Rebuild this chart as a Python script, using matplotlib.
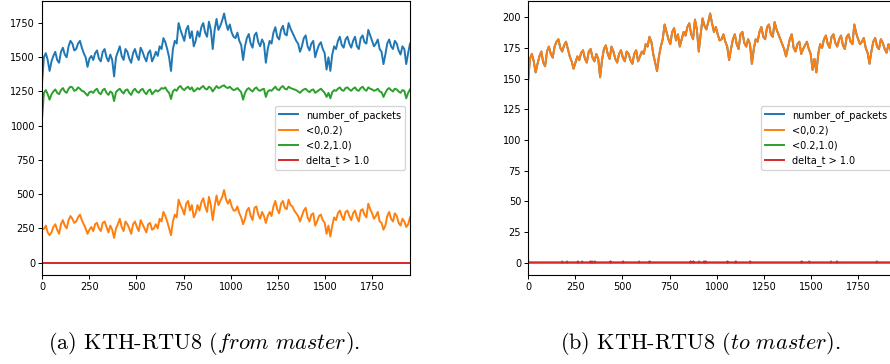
import matplotlib.pyplot as plt
import numpy as np

plt.rcParams['mathtext.fontset'] = 'cm'

n_samples = 1950

packets_a = [1310, 1500, 1530, 1480, 1400, 1470, 1510, 1540, 1480, 1460,
             1540, 1570, 1520, 1500, 1580, 1620, 1600, 1550, 1560, 1600,
             1620, 1570, 1530, 1500, 1430, 1490, 1510, 1480, 1530, 1550,
             1490, 1470, 1540, 1560, 1500, 1470, 1520, 1480, 1360, 1500,
             1540, 1580, 1510, 1480, 1560, 1540, 1490, 1460, 1530, 1560,
             1510, 1480, 1570, 1540, 1500, 1470, 1530, 1550, 1470, 1500,
             1540, 1510, 1580, 1560, 1640, 1610, 1560, 1500, 1400, 1560,
             1620, 1600, 1750, 1700, 1660, 1620, 1700, 1730, 1640, 1690,
             1580, 1620, 1690, 1650, 1720, 1750, 1680, 1650, 1760, 1700,
             1560, 1700, 1780, 1700, 1730, 1770, 1820, 1750, 1700, 1740,
             1680, 1650, 1640, 1680, 1620, 1590, 1480, 1580, 1640, 1670,
             1600, 1570, 1660, 1680, 1610, 1580, 1630, 1600, 1460, 1560,
             1620, 1600, 1680, 1720, 1650, 1630, 1700, 1730, 1670, 1660,
             1750, 1710, 1680, 1650, 1620, 1600, 1540, 1580, 1640, 1660,
             1580, 1550, 1600, 1620, 1500, 1550, 1590, 1610, 1560, 1530,
             1410, 1500, 1400, 1520, 1580, 1560, 1620, 1650, 1590, 1570,
             1630, 1650, 1600, 1570, 1620, 1650, 1580, 1560, 1640, 1660,
             1610, 1600, 1700, 1660, 1620, 1580, 1600, 1630, 1560, 1540,
             1450, 1520, 1600, 1630, 1580, 1560, 1620, 1600, 1550, 1520,
             1580, 1560, 1450, 1530, 1600]
short_a = [250, 245, 270, 220, 200, 220, 260, 280, 240, 210,
           280, 310, 270, 250, 310, 340, 320, 290, 300, 330,
           350, 310, 280, 250, 210, 240, 260, 230, 280, 290,
           250, 230, 290, 300, 260, 220, 270, 240, 180, 250,
           280, 320, 260, 230, 300, 280, 250, 210, 280, 300,
           260, 230, 310, 280, 250, 220, 280, 290, 240, 250,
           280, 250, 320, 300, 370, 340, 300, 250, 200, 300,
           350, 330, 460, 420, 390, 350, 430, 450, 380, 420,
           330, 360, 420, 380, 440, 470, 410, 370, 480, 420,
           310, 410, 490, 420, 450, 480, 530, 460, 430, 460,
           410, 380, 380, 410, 360, 330, 280, 320, 380, 400,
           340, 310, 400, 410, 350, 320, 370, 340, 290, 340,
           370, 340, 410, 450, 390, 360, 430, 450, 400, 390,
           460, 420, 410, 380, 360, 340, 300, 340, 380, 400,
           330, 300, 350, 360, 270, 300, 340, 350, 310, 290,
           210, 270, 190, 270, 330, 310, 360, 380, 340, 310,
           370, 380, 340, 310, 360, 380, 330, 300, 380, 390,
           350, 330, 430, 390, 360, 320, 340, 370, 300, 290,
           240, 270, 340, 370, 320, 300, 360, 340, 290, 270,
           320, 300, 260, 280, 330]
mid_a = [1050, 1240, 1260, 1230, 1190, 1230, 1250, 1265, 1240, 1230,
         1260, 1275, 1250, 1240, 1270, 1285, 1280, 1255, 1260, 1280,
         1270, 1255, 1250, 1235, 1220, 1245, 1250, 1240, 1260, 1270,
         1240, 1230, 1260, 1270, 1240, 1225, 1250, 1240, 1180, 1245,
         1260, 1270, 1250, 1235, 1260, 1265, 1240, 1225, 1255, 1270,
         1250, 1240, 1260, 1270, 1245, 1230, 1255, 1265, 1230, 1245,
         1260, 1250, 1260, 1275, 1270, 1280, 1255, 1240, 1195, 1250,
         1265, 1255, 1280, 1290, 1270, 1260, 1275, 1285, 1265, 1280,
         1250, 1260, 1275, 1265, 1280, 1290, 1270, 1265, 1285, 1275,
         1250, 1270, 1290, 1275, 1280, 1290, 1295, 1280, 1275, 1285,
         1270, 1260, 1265, 1275, 1260, 1245, 1190, 1240, 1265, 1275,
         1260, 1250, 1270, 1280, 1260, 1255, 1265, 1270, 1210, 1250,
         1260, 1255, 1270, 1285, 1265, 1260, 1280, 1290, 1270, 1265,
         1285, 1275, 1270, 1265, 1260, 1250, 1240, 1255, 1265, 1270,
         1255, 1245, 1260, 1265, 1240, 1250, 1260, 1270, 1255, 1240,
         1210, 1240, 1200, 1245, 1260, 1255, 1270, 1280, 1260, 1255,
         1275, 1280, 1265, 1255, 1270, 1280, 1260, 1255, 1275, 1285,
         1265, 1255, 1280, 1270, 1265, 1255, 1260, 1270, 1250, 1245,
         1210, 1240, 1265, 1275, 1260, 1250, 1270, 1265, 1250, 1240,
         1260, 1255, 1200, 1240, 1265]
long_a = [0] * len(packets_a)

# KTH-RTU8, to master
short_b = [147, 166, 170, 164, 155, 162, 168, 172, 163, 160,
           172, 176, 170, 167, 176, 180, 182, 175, 172, 177,
           180, 174, 168, 164, 158, 163, 168, 165, 171, 173,
           166, 163, 172, 174, 167, 164, 170, 166, 151, 165,
           174, 177, 170, 166, 176, 172, 166, 163, 170, 173,
           167, 164, 172, 170, 165, 162, 170, 173, 164, 168,
           172, 170, 178, 176, 184, 180, 170, 163, 156, 168,
           176, 182, 194, 188, 182, 178, 188, 191, 181, 186,
           176, 182, 188, 185, 192, 195, 186, 182, 198, 190,
           172, 186, 199, 193, 190, 196, 203, 195, 188, 192,
           186, 181, 182, 186, 180, 176, 165, 174, 182, 186,
           178, 174, 186, 188, 179, 176, 182, 178, 162, 174,
           182, 180, 188, 192, 184, 182, 192, 194, 186, 184,
           196, 190, 186, 182, 178, 174, 168, 175, 182, 186,
           175, 172, 178, 180, 170, 174, 177, 180, 174, 170,
           157, 166, 155, 170, 178, 175, 182, 185, 178, 175,
           184, 186, 179, 176, 182, 185, 177, 174, 184, 186,
           180, 178, 194, 187, 182, 178, 180, 183, 175, 171,
           162, 172, 180, 183, 176, 174, 182, 179, 174, 171,
           178, 174, 165, 171, 176]
packets_b = short_b
# rare non-zero counts in the slower bins (index, count)
mid_b_idx = [180, 207, 287, 340, 588, 906, 1490, 1605, 1848]
mid_b_val = [1, 1, 1, 1, 1, 1, 1, 1, 1]
long_b_idx = [0, 264, 331, 354, 437, 504, 644, 862, 876, 933, 942, 1057,
              1101, 1177, 1450, 1637]
long_b_val = [3, 1, 1, 1, 1, 1, 1, 1, 1, 1, 1, 1, 1, 1, 1, 1]

labels = ["number_of_packets", "<0,0.2)", "<0.2,1.0)", "delta_t > 1.0"]


def spikes(idx, val):
    s = np.zeros(n_samples)
    s[idx] = val
    return s


t = np.linspace(0, n_samples, len(packets_a))
t_full = np.arange(n_samples)

fig = plt.figure(figsize=(8.9, 3.64), dpi=100)
ax_a = fig.add_axes([0.0472, 0.2445, 0.4135, 0.7527])
ax_b = fig.add_axes([0.5933, 0.2445, 0.4135, 0.7527])

ax_a.plot(t, packets_a, color='tab:blue', lw=1.4, label=labels[0])
ax_a.plot(t, short_a, color='tab:orange', lw=1.4, label=labels[1])
ax_a.plot(t, mid_a, color='tab:green', lw=1.4, label=labels[2])
ax_a.plot(t, long_a, color='tab:red', lw=1.4, label=labels[3])

ax_b.plot(t, packets_b, color='tab:blue', lw=1.4, label=labels[0])
ax_b.plot(t, short_b, color='tab:orange', lw=1.4, label=labels[1])
ax_b.plot(t_full, spikes(mid_b_idx, mid_b_val), color='tab:green', lw=1.4,
          label=labels[2])
ax_b.plot(t_full, spikes(long_b_idx, long_b_val), color='tab:red', lw=1.4,
          label=labels[3])

for ax in (ax_a, ax_b):
    ax.set_xlim(0, n_samples)
    ax.set_xticks([0, 250, 500, 750, 1000, 1250, 1500, 1750])
    ax.tick_params(labelsize=7, length=3, width=0.7, pad=2)
    ax.legend(loc='center right', fontsize=7)

ax_a.set_yticks([0, 250, 500, 750, 1000, 1250, 1500, 1750])
ax_b.set_yticks([0, 25, 50, 75, 100, 125, 150, 175, 200])

fig.text(0.229, 0.055, r"(a) KTH-RTU8 ($\mathit{from\ master}$).",
         family='cmr10', fontsize=16, ha='center', va='center')
fig.text(0.787, 0.055, r"(b) KTH-RTU8 ($\mathit{to\ master}$).",
         family='cmr10', fontsize=16, ha='center', va='center')

fig.savefig("out.png", dpi=100)
